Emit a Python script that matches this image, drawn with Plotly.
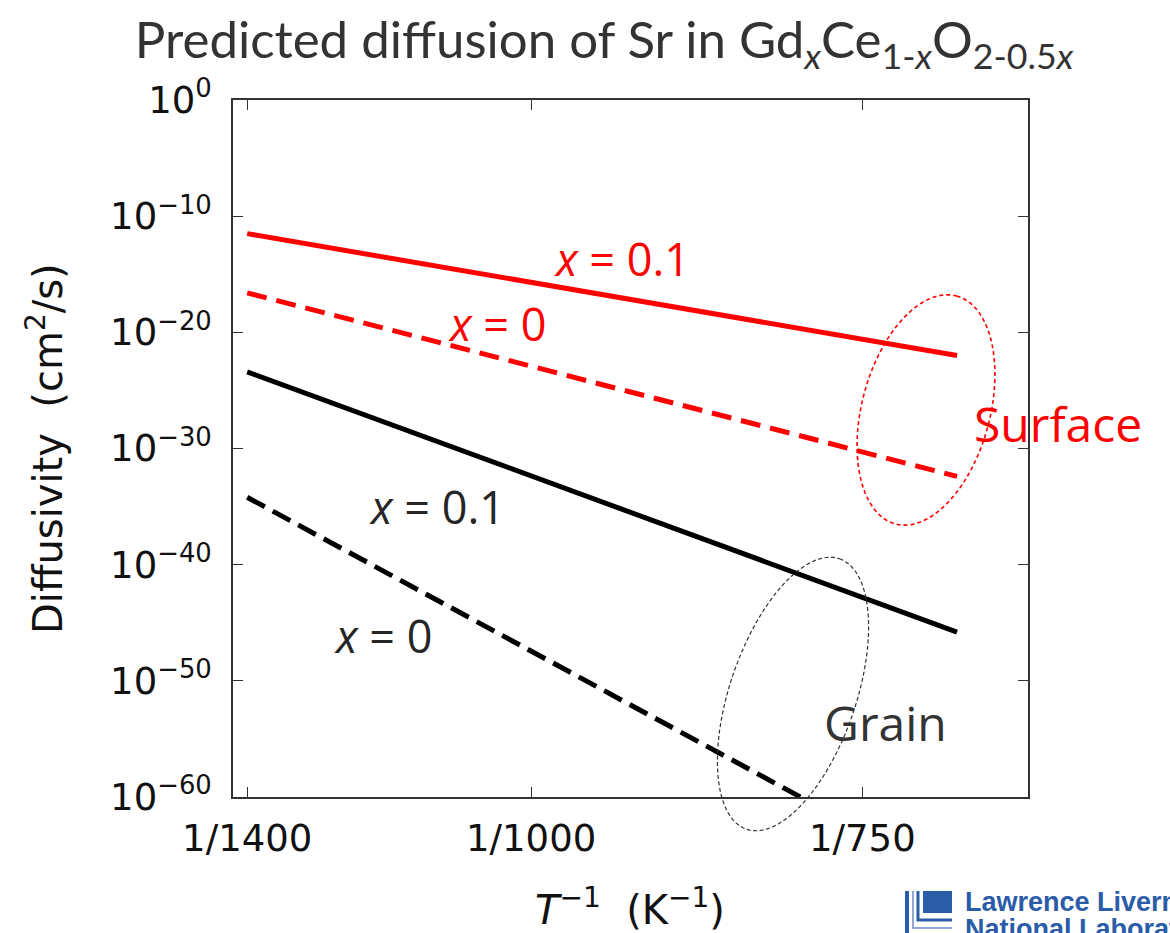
import numpy as np
import plotly.graph_objects as go

# ---- data ----
inv_T = [1 / 1400, 1 / 700]                 # K^-1, line end points
log_surface_x01 = [-11.5, -22.0]            # log10 D, surface, x = 0.1
log_surface_x0 = [-16.6, -32.4]             # log10 D, surface, x = 0
log_grain_x01 = [-23.4, -45.8]              # log10 D, grain, x = 0.1
log_grain_x0 = [-34.2, -67.3]               # log10 D, grain, x = 0

x_tickvals = [1 / 1400, 1 / 1000, 1 / 750]
x_ticktext = ["1/1400", "1/1000", "1/750"]
y_exponents = [0, -10, -20, -30, -40, -50, -60]

RED = "#ff0000"
BLACK = "#000000"

fig = go.Figure()


def add_line(logs, color, dash):
    fig.add_trace(go.Scatter(
        x=inv_T, y=[10.0 ** v for v in logs], mode="lines",
        line=dict(color=color, width=5, dash=dash), showlegend=False,
        hoverinfo="skip"))


add_line(log_surface_x01, RED, "solid")
add_line(log_surface_x0, RED, "20px,10px")
add_line(log_grain_x01, BLACK, "solid")
add_line(log_grain_x0, BLACK, "20px,9px")

# ---- layout geometry ----
W, H = 1170, 933
L, R, T, B = 233, 142, 100, 136
PW, PH = W - L - R, H - T - B


def px2paper(px, py):
    return (px - L) / PW, (H - B - py) / PH


def ellipse_path(cx, cy, a, b, theta_deg, n=120):
    th = np.radians(theta_deg)
    u = np.array([np.sin(th), -np.cos(th)])
    v = np.array([np.cos(th), np.sin(th)])
    pts = []
    for t in np.linspace(0, 2 * np.pi, n, endpoint=False):
        p = np.array([cx, cy]) + a * np.cos(t) * u + b * np.sin(t) * v
        pts.append(px2paper(*p))
    return "M " + " L ".join(f"{x:.5f},{y:.5f}" for x, y in pts) + " Z"


fig.add_shape(type="path", xref="paper", yref="paper",
              path=ellipse_path(926, 410, 118, 64, 15),
              line=dict(color=RED, width=1.6, dash="4px,3px"))
fig.add_shape(type="path", xref="paper", yref="paper",
              path=ellipse_path(793, 694, 143, 63, 19),
              line=dict(color="#333333", width=1.2, dash="4px,2.5px"))

# ---- annotations ----
TXT_FONT = "Open Sans"


def label(px, py, text, color, size=45):
    x, y = px2paper(px, py)
    fig.add_annotation(x=x, y=y, xref="paper", yref="paper", text=text,
                       showarrow=False, xanchor="center", yanchor="middle",
                       font=dict(family=TXT_FONT, size=size, color=color))


label(622, 258, "<i>x</i> = 0.1", RED)
label(497, 323, "<i>x</i> = 0", RED)
label(437, 506, "<i>x</i> = 0.1", "#262626")
label(383, 635, "<i>x</i> = 0", "#262626")
label(1058, 423, "Surface", RED, 48)
label(885, 722, "Grain", "#333333", 48)

# axis titles
x, y = px2paper(45, 449)
fig.add_annotation(x=x, y=y, xref="paper", yref="paper",
                   text="Diffusivity  (cm<sup>2</sup>/s)", textangle=-90,
                   showarrow=False, xanchor="center", yanchor="middle",
                   font=dict(family="DejaVu Sans", size=40, color="#111111"))
x, y = px2paper(630, 907)
fig.add_annotation(x=x, y=y, xref="paper", yref="paper",
                   text="<i>T</i><sup>\u22121</sup>  (K<sup>\u22121</sup>)",
                   showarrow=False, xanchor="center", yanchor="middle",
                   font=dict(family="DejaVu Sans", size=40, color="#111111"))

# logo (partially cut off, as in the reference)
LOGO = "#2b5ca8"
x, y = px2paper(923, 891)
x2, y2 = px2paper(952, 913)
fig.add_shape(type="rect", xref="paper", yref="paper", x0=x, y0=y, x1=x2, y1=y2,
              fillcolor=LOGO, line=dict(width=0))
for (vx, hy, col, w) in [(907, 945, LOGO, 4), (913, 928, "#8fa9d6", 2), (918, 920, LOGO, 3)]:
    a0 = px2paper(vx, 891)
    a1 = px2paper(vx, hy)
    a2 = px2paper(952, hy)
    fig.add_shape(type="path", xref="paper", yref="paper",
                  path=f"M {a0[0]},{a0[1]} L {a1[0]},{a1[1]} L {a2[0]},{a2[1]}",
                  line=dict(color=col, width=w))
x, y = px2paper(963, 902)
fig.add_annotation(x=x, y=y, xref="paper", yref="paper", text="<b>Lawrence Livermore</b>",
                   showarrow=False, xanchor="left", yanchor="middle",
                   font=dict(family="Liberation Sans", size=27, color=LOGO))
x, y = px2paper(963, 929)
fig.add_annotation(x=x, y=y, xref="paper", yref="paper", text="<b>National Laboratory</b>",
                   showarrow=False, xanchor="left", yanchor="middle",
                   font=dict(family="Liberation Sans", size=27, color=LOGO))

fig.update_layout(
    width=W, height=H,
    margin=dict(l=L, r=R, t=T, b=B, autoexpand=False),
    paper_bgcolor="white", plot_bgcolor="white",
    title=dict(
        text="Predicted diffusion of Sr in Gd<sub><i>x</i></sub>Ce<sub>1-<i>x</i></sub>O<sub>2-0.5<i>x</i></sub>",
        x=604 / W, xanchor="center", y=1 - 40 / H, yanchor="middle",
        font=dict(family="Lato", size=51, color="#333333")),
    xaxis=dict(
        range=[0.0007, 0.0015], tickvals=x_tickvals, ticktext=x_ticktext,
        ticks="inside", ticklen=10, tickwidth=1, tickcolor="#333333",
        showline=True, linecolor="#333333", linewidth=1.5, mirror="allticks",
        showgrid=False, zeroline=False, ticklabelstandoff=8,
        tickfont=dict(family="DejaVu Sans", size=37, color="#111111")),
    yaxis=dict(
        type="log", range=[-60, 0],
        tickvals=[10.0 ** e for e in y_exponents],
        ticktext=[f"10<sup>{str(e).replace('-', '\u2212')}</sup>" for e in y_exponents],
        ticks="inside", ticklen=10, tickwidth=1, tickcolor="#333333",
        showline=True, linecolor="#333333", linewidth=1.5, mirror="allticks",
        showgrid=False, zeroline=False, ticklabelstandoff=12,
        tickfont=dict(family="DejaVu Sans", size=37, color="#111111")),
)

fig.write_html("out.html")
